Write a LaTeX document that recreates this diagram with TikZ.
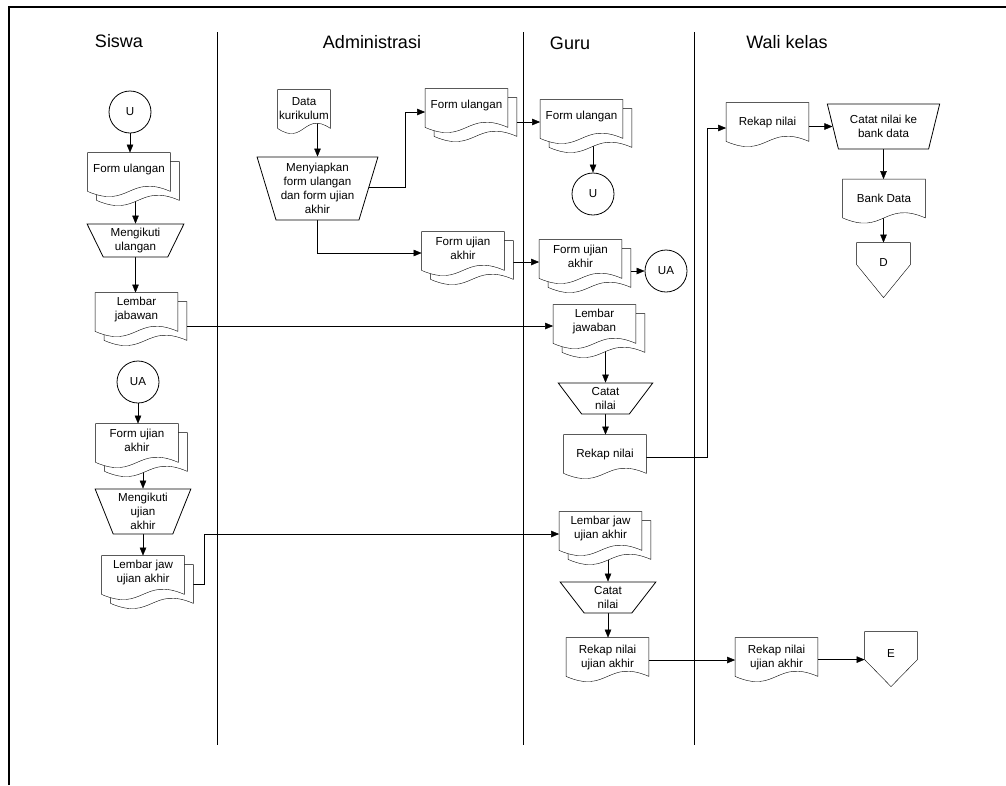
\documentclass[tikz,border=0pt]{standalone}
\usepackage{fontspec}
\setmainfont{Liberation Sans}
\usetikzlibrary{arrows.meta,calc,shapes.geometric}
\pgfdeclarelayer{edges}
\pgfdeclarelayer{shapes}
\pgfsetlayers{edges,shapes,main}
\newcommand{\wavedoc}[4]{%
  \draw[outline] ($(#1.north west)+(#2,#3)$) -- ($(#1.north east)+(#2,#3)$) -- ($(#1.south east)+(#2,#3)+(0,#4)$)
    .. controls ($(#1.south)+(#2,#3)+(0,#4-18)$) and ($(#1.south)+(#2,#3)+(0,#4+18)$) .. ($(#1.south west)+(#2,#3)+(0,#4)$) -- cycle;}
\begin{document}
\begin{tikzpicture}[x=1pt,y=-1pt,
  line width=0.8pt,
  every node/.style={font=\fontsize{11.6}{14}\selectfont, align=center, inner sep=0pt},
  hdr/.style={font=\fontsize{18}{21}\selectfont},
  doc/.style={minimum width=82, minimum height=38},
  mdoc/.style={minimum width=82, minimum height=32},
  conn/.style={circle, draw, fill=white, minimum size=42},
  manual/.style={trapezium, shape border rotate=180, trapezium stretches=true, draw, fill=white},
  outline/.style={draw, fill=white},
  arr/.style={-{Triangle[length=8pt,width=6.5pt]}}
]
\useasboundingbox (0,0) rectangle (1006,785);
% frame and lanes
\draw[line width=1.2pt] (9,785) -- (9,7) -- (1006,7);
\draw (217,32) -- (217,745);
\draw (523,32) -- (523,745);
\draw (694,32) -- (694,745);
\node[hdr] (hS) at (119,41) {Siswa};
\node[hdr] (hA) at (372,42) {Administrasi};
\node[hdr] (hG) at (570,43) {Guru};
\node[hdr] (hW) at (787,42) {Wali kelas};
% Siswa
\node[conn] (U1) at (130,112) {U};
\node[mdoc] (fuS) at (129,169) {Form ulangan};
\node[manual, minimum width=97, minimum height=33, trapezium angle=63.4] (mu) at (135.5,240.5) {Mengikuti\\ulangan};
\node[mdoc] (lj) at (136.5,309) {Lembar\\jabawan};
\node[conn] (UA1) at (138,382) {UA};
\node[mdoc] (fuaS) at (137,440) {Form ujian\\akhir};
\node[manual, minimum width=96, minimum height=45, trapezium angle=67.6] (mua) at (143,511.5) {Mengikuti\\ujian\\akhir};
\node[mdoc] (ljuaS) at (143,572) {Lembar jaw\\ujian akhir};
% Administrasi
\node[doc, minimum width=52] (dk) at (304,109) {Data\\kurikulum};
\node[manual, minimum width=121, minimum height=63, trapezium angle=71.6] (mf) at (317.5,188.5) {Menyiapkan\\form ulangan\\dan form ujian\\akhir};
\node[mdoc] (fuA) at (466.5,105) {Form ulangan};
\node[mdoc] (fuaA) at (463,248) {Form ujian\\akhir};
% Guru
\node[mdoc] (fuG) at (581.5,116) {Form ulangan};
\node[conn] (U2) at (593,194) {U};
\node[mdoc] (fuaG) at (580.5,256) {Form ujian\\akhir};
\node[conn] (UA2) at (666,271) {UA};
\node[mdoc] (ljG) at (594.5,321) {Lembar\\jawaban};
\node[manual, minimum width=95, minimum height=31, trapezium angle=58.5] (cn1) at (605.5,398.5) {Catat\\nilai};
\node[doc] (rn1) at (605,454) {Rekap nilai};
\node[mdoc] (ljuaG) at (600.5,528) {Lembar jaw\\ujian akhir};
\node[manual, minimum width=96, minimum height=31, trapezium angle=57.8] (cn2) at (608,597.5) {Catat\\nilai};
\node[doc] (rnua) at (607.5,657) {Rekap nilai\\ujian akhir};
% Wali kelas
\node[doc] (rnW) at (767.5,122) {Rekap nilai};
\node[manual, minimum width=113, minimum height=45, trapezium angle=69.9] (cb) at (883.5,126.5) {Catat nilai ke\\bank data};
\node[doc] (bd) at (884,198.5) {Bank Data};
\node[minimum width=53, minimum height=40] (D) at (883.5,263) {D};
\node[doc] (rnuaW) at (776.5,657) {Rekap nilai\\ujian akhir};
\node[minimum width=52, minimum height=42] (E) at (891,653) {E};
% helper coordinates
\coordinate (j1) at (405,0);
\coordinate (j2) at (707,0);
\coordinate (j3) at (204,534);
\coordinate (ljIn) at ([yshift=-5pt]ljG.west);
\coordinate (ljuaIn) at ([yshift=-6pt]ljuaG.west);
\coordinate (fuAIn) at ([yshift=-7pt]fuA.west);
\coordinate (fuaAIn) at ([yshift=-5pt]fuaA.west);
\coordinate (fuGIn) at ([yshift=-6pt]fuG.west);
\coordinate (fuaGIn) at ([yshift=-6pt]fuaG.west);
\coordinate (rnWIn) at ([yshift=-6pt]rnW.west);
\coordinate (rnuaWIn) at ([yshift=-3pt]rnuaW.west);
\coordinate (Ein) at ($(E.north west)+(0,28)$);
% shapes
\begin{pgfonlayer}{shapes}
\foreach \n in {fuS,lj,fuaS,ljuaS,fuA,fuaA,fuG,fuaG,ljG,ljuaG} {\wavedoc{\n}{9}{9}{6}\wavedoc{\n}{0}{0}{6}}
\foreach \n in {dk,rn1,rnua,rnW,bd,rnuaW} {\wavedoc{\n}{0}{0}{0}}
\draw[outline] (D.north west) -- (D.north east) -- ($(D.north east)+(0,22)$) -- ($(D.north)+(0,55)$) -- ($(D.north west)+(0,22)$) -- cycle;
\draw[outline] (E.north west) -- (E.north east) -- ($(E.north east)+(0,28)$) -- ($(E.north)+(0,55)$) -- ($(E.north west)+(0,28)$) -- cycle;
\end{pgfonlayer}
% connectors
\begin{pgfonlayer}{edges}
\draw[arr] (U1) -- (U1 |- fuS.north);
\draw[arr] (fuS.center -| mu.north) -- (mu.north);
\draw[arr] (mu.south) -- (mu.south |- lj.north);
\draw[arr] (lj.center |- ljIn) -- (ljIn);
\draw[arr] (UA1) -- (UA1 |- fuaS.north);
\draw[arr] (fuaS.center -| mua.north) -- (mua.north);
\draw[arr] (mua.south) -- (mua.south |- ljuaS.north);
\draw[arr] ([yshift=-12pt]ljuaS.center) -| (j3) -- (ljuaIn);
\draw[arr] (dk.center -| mf.north) -- (mf.north);
\draw[arr] ([yshift=1.5pt]mf.center) -| (j1 |- fuAIn) -- (fuAIn);
\draw[arr] (mf.south) |- (fuaAIn);
\draw[arr] (fuA.center |- fuGIn) -- (fuGIn);
\draw[arr] (fuaA.center |- fuaGIn) -- (fuaGIn);
\draw[arr] (fuG.center -| U2) -- (U2);
\draw[arr] (fuaG.center |- UA2) -- (UA2);
\draw[arr] (ljG.center -| cn1.north) -- (cn1.north);
\draw[arr] (cn1.south) -- (cn1.south |- rn1.north);
\draw[arr] ([yshift=-3pt]rn1.east) -| (j2 |- rnWIn) -- (rnWIn);
\draw[arr] (ljuaG.center -| cn2.north) -- (cn2.north);
\draw[arr] (cn2.south) -- (cn2.south |- rnua.north);
\draw[arr] (rnua.center |- rnuaWIn) -- (rnuaWIn);
\draw[arr] (rnW.center |- cb.180) -- (cb.180);
\draw[arr] (cb.south) -- (cb.south |- bd.north);
\draw[arr] (bd.center -| D.north) -- (D.north);
\draw[arr] (rnuaW.center |- Ein) -- (Ein);
\end{pgfonlayer}
\end{tikzpicture}
\end{document}
